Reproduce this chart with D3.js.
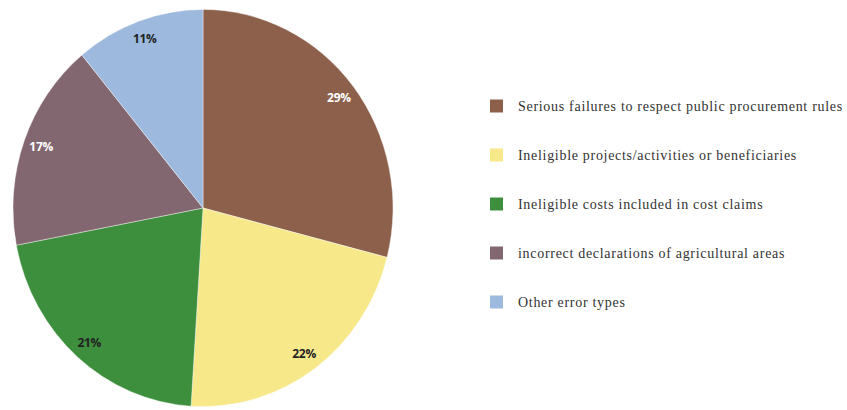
<!DOCTYPE html>
<html>
<head>
<meta charset="utf-8">
<script src="https://cdn.jsdelivr.net/npm/d3@7"></script>
<style>
body { margin: 0; background: #fff; }
svg { display: block; }
</style>
</head>
<body>
<script>
//----------------
//Data
//----------------
var categories = [
	'Serious failures to respect public procurement rules',
	'Ineligible projects/activities or beneficiaries',
	'Ineligible costs included in cost claims',
	'incorrect declarations of agricultural areas',
	'Other error types'
]
var shares = [29, 22, 21, 17, 11]
var colors = ['#8c604b', '#f7e88a', '#3d8f3d', '#836770', '#9db9dd']
var labelColors = ['#fff', '#222', '#222', '#fff', '#222']

//----------------
//Layout
//----------------
var _width = 847,
	_height = 410
var _cx = 203,
	_cy = 208,
	_r = 190,
	_ky = 1.045

var _svg = d3.select('body').append('svg')
	.attr('width', _width)
	.attr('height', _height)

var pie = d3.pie().sort(null).value(function(d){ return d.v })
var arcs = pie(shares.map(function(v, i){ return { v: v, i: i } }))

var arc = d3.arc().innerRadius(0).outerRadius(_r)
var labelArc = d3.arc().innerRadius(172).outerRadius(172)

//Slices, slightly taller than wide like the picture
var gPie = _svg.append('g')
	.attr('transform', 'translate(' + _cx + ',' + _cy + ') scale(1,' + _ky + ')')
gPie.selectAll('path.slice').data(arcs).enter().append('path')
	.classed('slice', true)
	.attr('d', arc)
	.attr('fill', function(d){ return colors[d.data.i] })
	.attr('stroke', '#fff')
	.attr('stroke-width', 0.4)

//Percentage labels
var gLabels = _svg.append('g').attr('transform', 'translate(' + _cx + ',' + _cy + ')')
gLabels.selectAll('text.label').data(arcs).enter().append('text')
	.classed('label', true)
	.attr('x', function(d){ return labelArc.centroid(d)[0] })
	.attr('y', function(d){ return labelArc.centroid(d)[1] * _ky })
	.attr('dy', '0.35em')
	.attr('text-anchor', 'middle')
	.attr('font-family', 'Open Sans, sans-serif')
	.attr('font-weight', 'bold')
	.attr('font-size', 12)
	.attr('letter-spacing', -0.3)
	.attr('fill', function(d){ return labelColors[d.data.i] })
	.text(function(d){ return d.data.v + '%' })

//Legend
var y = d3.scalePoint().domain(d3.range(categories.length)).range([106, 302])
var gLegend = _svg.append('g').attr('transform', 'translate(490,0)')
var rows = gLegend.selectAll('g.row').data(categories).enter().append('g')
	.classed('row', true)
	.attr('transform', function(d, i){ return 'translate(0,' + y(i) + ')' })
rows.append('rect')
	.attr('x', 0).attr('y', -6.5)
	.attr('width', 13).attr('height', 13)
	.attr('fill', function(d, i){ return colors[i] })
rows.append('text')
	.attr('x', 28)
	.attr('dy', '0.35em')
	.attr('font-family', 'Liberation Serif, serif')
	.attr('font-size', 14)
	.attr('letter-spacing', 0.7)
	.attr('fill', '#333')
	.text(function(d){ return d })
</script>
</body>
</html>
